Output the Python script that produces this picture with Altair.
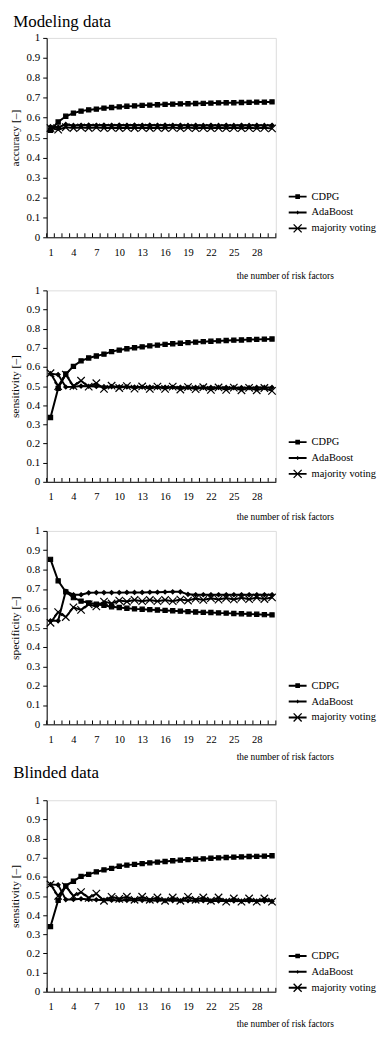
import altair as alt
import pandas as pd

FONT = "Liberation Serif"
WIDTH = 231

x_vals = list(range(1, 31))
series_names = ["CDPG", "AdaBoost", "majority voting"]
x_label_values = [1, 4, 7, 10, 13, 16, 19, 22, 25, 28]
y_tick_values = [0, 0.1, 0.2, 0.3, 0.4, 0.5, 0.6, 0.7, 0.8, 0.9, 1]
x_title = "the number of risk factors"

# Modeling data: accuracy
cdpg_acc = [0.537, 0.578, 0.607, 0.623, 0.633, 0.639, 0.643, 0.648, 0.651, 0.654, 0.657, 0.659, 0.662, 0.663, 0.665,
            0.667, 0.668, 0.669, 0.670, 0.671, 0.672, 0.673, 0.674, 0.675, 0.675, 0.676, 0.677, 0.678, 0.678, 0.679]
ada_acc = [0.555, 0.552, 0.566, 0.561, 0.562, 0.563, 0.562, 0.563, 0.562, 0.563, 0.562, 0.563, 0.562, 0.563, 0.562,
           0.563, 0.562, 0.562, 0.561, 0.562, 0.561, 0.562, 0.561, 0.562, 0.561, 0.562, 0.561, 0.562, 0.561, 0.562]
maj_acc = [0.548, 0.540, 0.552, 0.548, 0.551, 0.548, 0.551, 0.548, 0.550, 0.548, 0.550, 0.548, 0.550, 0.548, 0.550,
           0.548, 0.550, 0.547, 0.550, 0.547, 0.549, 0.547, 0.549, 0.547, 0.549, 0.547, 0.549, 0.547, 0.549, 0.546]

# Modeling data: sensitivity
cdpg_sens_m = [0.336, 0.488, 0.563, 0.603, 0.632, 0.647, 0.657, 0.667, 0.680, 0.688, 0.695, 0.700, 0.705, 0.710, 0.714,
               0.718, 0.721, 0.724, 0.727, 0.730, 0.732, 0.734, 0.736, 0.738, 0.740, 0.741, 0.743, 0.744, 0.745, 0.746]
ada_sens_m = [0.565, 0.560, 0.495, 0.496, 0.500, 0.499, 0.498, 0.497, 0.497, 0.496, 0.496, 0.495, 0.495, 0.495, 0.494,
              0.494, 0.494, 0.494, 0.493, 0.493, 0.493, 0.493, 0.493, 0.493, 0.492, 0.492, 0.492, 0.493, 0.493, 0.493]
maj_sens_m = [0.567, 0.500, 0.560, 0.500, 0.528, 0.497, 0.515, 0.485, 0.502, 0.490, 0.500, 0.487, 0.498, 0.485, 0.497,
              0.485, 0.497, 0.482, 0.495, 0.484, 0.494, 0.480, 0.493, 0.480, 0.492, 0.478, 0.491, 0.478, 0.490, 0.475]

# Modeling data: specificity
cdpg_spec = [0.853, 0.742, 0.685, 0.655, 0.637, 0.628, 0.621, 0.615, 0.608, 0.604, 0.600, 0.597, 0.595, 0.593, 0.591,
             0.589, 0.587, 0.585, 0.583, 0.581, 0.579, 0.578, 0.576, 0.575, 0.573, 0.572, 0.570, 0.569, 0.567, 0.566]
ada_spec = [0.535, 0.535, 0.688, 0.670, 0.670, 0.680, 0.681, 0.681, 0.681, 0.681, 0.682, 0.682, 0.682, 0.683, 0.683,
            0.684, 0.685, 0.685, 0.672, 0.670, 0.670, 0.670, 0.670, 0.670, 0.670, 0.670, 0.670, 0.670, 0.670, 0.670]
maj_spec = [0.525, 0.580, 0.555, 0.605, 0.592, 0.620, 0.610, 0.635, 0.625, 0.640, 0.635, 0.643, 0.637, 0.643, 0.637,
            0.643, 0.637, 0.645, 0.640, 0.650, 0.643, 0.652, 0.645, 0.653, 0.646, 0.654, 0.647, 0.655, 0.648, 0.656]

# Blinded data: sensitivity
cdpg_sens_b = [0.340, 0.477, 0.552, 0.577, 0.602, 0.613, 0.626, 0.636, 0.644, 0.655, 0.661, 0.665, 0.669, 0.673, 0.677,
               0.680, 0.684, 0.687, 0.690, 0.692, 0.694, 0.697, 0.699, 0.701, 0.703, 0.704, 0.706, 0.707, 0.708, 0.710]
ada_sens_b = [0.560, 0.558, 0.481, 0.482, 0.485, 0.482, 0.480, 0.478, 0.478, 0.478, 0.477, 0.477, 0.477, 0.476, 0.476,
              0.476, 0.476, 0.475, 0.475, 0.475, 0.475, 0.474, 0.474, 0.474, 0.474, 0.473, 0.473, 0.473, 0.473, 0.472]
maj_sens_b = [0.560, 0.500, 0.550, 0.500, 0.520, 0.490, 0.512, 0.475, 0.495, 0.485, 0.496, 0.480, 0.496, 0.480, 0.492,
              0.475, 0.492, 0.475, 0.495, 0.480, 0.492, 0.475, 0.492, 0.470, 0.487, 0.470, 0.487, 0.470, 0.487, 0.470]


def square(a):
    return f"M{-a},{-a}H{a}V{a}H{-a}Z"


def diamond(a):
    return f"M0,{-a}L{a},0L0,{a}L{-a},0Z"


def cross_filled(a, t):
    d = round(t / (2 * 2 ** 0.5), 4)
    p1 = [(-a + d, -a - d), (a + d, a - d), (a - d, a + d), (-a - d, -a + d)]
    p2 = [(a + d, -a + d), (-a + d, a + d), (-a - d, a - d), (a - d, -a - d)]
    s = ""
    for poly in (p1, p2):
        s += "M" + "L".join(f"{round(x, 4)},{round(y, 4)}" for x, y in poly) + "Z"
    return s


def cross_line(a):
    return f"M{-a},{-a}L{a},{a}M{-a},{a}L{a},{-a}"


LINE = "M-1,-0.11H1V0.11H-1Z"

marker_paths = [square(0.42), diamond(0.4), cross_line(0.75)]
legend_paths = [LINE + square(0.26), LINE + diamond(0.22), LINE + cross_filled(0.45, 0.15)]

boundaries = [i + 0.5 for i in range(0, 31)]

x_scale = alt.Scale(domain=[0.5, 30.5], nice=False, zero=False)
y_scale = alt.Scale(domain=[0, 1], nice=False, zero=True)


def panel(cdpg, ada, maj, ytitle, height, xtitle_y, legend_y, title=None, title_offset=0):
    df = pd.DataFrame({
        "x": x_vals * 3,
        "series": [series_names[0]] * 30 + [series_names[1]] * 30 + [series_names[2]] * 30,
        "value": cdpg + ada + maj,
    })
    df["legend"] = df["series"]
    base = alt.Chart(df)
    x_axis = alt.Axis(
        values=x_label_values, ticks=False, grid=False, domain=True, domainColor="black",
        labelFont=FONT, labelFontSize=10.5, labelColor="black", labelPadding=10, labelFlush=False,
        labelOverlap=False,
        title=x_title, titleFont=FONT, titleFontSize=9.5, titleFontWeight="normal", titleColor="black",
        titleX=WIDTH + 58, titleY=xtitle_y, titleAlign="right", titleBaseline="alphabetic")
    y_axis = alt.Axis(
        values=y_tick_values, format="~g", grid=False, tickSize=4, tickColor="black",
        domainColor="black", labelFont=FONT, labelFontSize=11, labelColor="black", labelPadding=3,
        labelOverlap=False,
        title=ytitle, titleFont=FONT, titleFontSize=11.5, titleFontWeight="normal", titleColor="black",
        titlePadding=6)
    x_enc = alt.X("x:Q", scale=x_scale, axis=x_axis)
    y_enc = alt.Y("value:Q", scale=y_scale, axis=y_axis)
    lines = base.mark_line(color="black", strokeWidth=2).encode(x=x_enc, y=y_enc, detail="series:N")
    pts = base.mark_point(filled=True, color="black", stroke="black", strokeWidth=1.2, size=100,
                          opacity=1).encode(
        x=x_enc, y=y_enc,
        shape=alt.Shape("series:N", scale=alt.Scale(domain=series_names, range=marker_paths), legend=None))
    leg = base.mark_point(filled=True, color="black", size=0).encode(
        x=x_enc, y=y_enc,
        shape=alt.Shape("legend:N", scale=alt.Scale(domain=series_names, range=legend_paths),
                        legend=alt.Legend(title=None, orient="none", legendX=WIDTH + 12, legendY=legend_y,
                                          labelFont=FONT, labelFontSize=10.5, labelColor="black",
                                          symbolSize=324, symbolOpacity=1, symbolFillColor="black",
                                          rowPadding=0, labelOffset=4, padding=0)))
    ticks = alt.Chart(pd.DataFrame({"b": boundaries})).mark_rule(color="black", strokeWidth=1).encode(
        x=alt.X("b:Q", scale=x_scale, axis=x_axis),
        y=alt.Y(datum=0, scale=y_scale, axis=y_axis), y2=alt.datum(0.02))
    ch = alt.layer(lines, ticks, pts, leg).resolve_scale(shape="independent")
    props = dict(width=WIDTH, height=height)
    if title is not None:
        props["title"] = alt.TitleParams(title, anchor="start", font=FONT, fontSize=17, fontWeight="normal",
                                         color="black", offset=title_offset, dx=4)
    return ch.properties(**props)


p1 = panel(cdpg_acc, ada_acc, maj_acc, "accuracy [–]", 201, 42, 150, title="Modeling data", title_offset=1)
p2 = panel(cdpg_sens_m, ada_sens_m, maj_sens_m, "sensitivity [–]", 193, 38, 143)
p3 = panel(cdpg_spec, ada_spec, maj_spec, "specificity [–]", 195, 35, 146)
p4 = panel(cdpg_sens_b, ada_sens_b, maj_sens_b, "sensitivity [–]", 193, 35, 147, title="Blinded data",
           title_offset=12)

chart = alt.vconcat(p1, p2, p3, p4, spacing=2.5).properties(padding=0).configure_view(
    stroke="black", strokeWidth=1).configure(background="white")

chart.save("out.html", embed_options={"renderer": "svg", "actions": False})
